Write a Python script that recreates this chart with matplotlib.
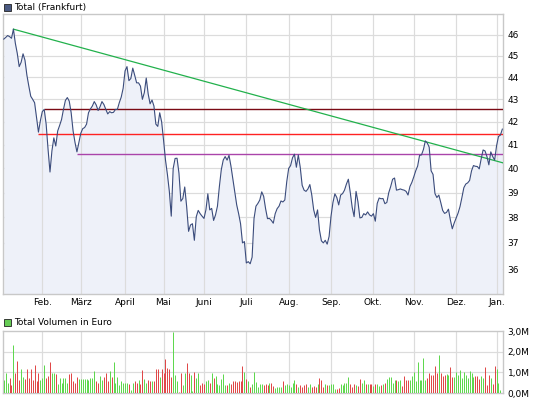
import numpy as np
import pandas as pd
import matplotlib
matplotlib.use("Agg")
import matplotlib.pyplot as plt
from matplotlib.patches import Rectangle

# ---------------- data ----------------
holidays = ["2010-04-02", "2010-04-05", "2010-12-24", "2010-12-31"]
dates = pd.bdate_range("2010-01-04", "2011-01-06")
dates = dates[~dates.isin(pd.to_datetime(holidays))]

month_labels = ["Feb.", "März", "April", "Mai", "Juni", "Juli", "Aug.",
                "Sep.", "Okt.", "Nov.", "Dez.", "Jan."]

prices = [
    45.8, 45.88, 45.97, 45.92, 45.84, 46.28, 45.6, 45.12, 44.5, 44.7,
    45.1, 44.8, 44.1, 43.6, 43.14, 43.0, 42.85, 42.2, 41.55, 42.05,
    42.45, 42.55, 41.9, 40.8, 39.85, 40.74, 41.3, 40.95, 41.6, 41.84,
    42.1, 42.55, 42.95, 43.08, 42.92, 42.4, 41.6, 41.1, 40.7, 41.1,
    41.5, 41.7, 41.75, 41.9, 42.4, 42.57, 42.7, 42.9, 42.75, 42.5,
    42.67, 42.9, 42.77, 42.55, 42.35, 42.45, 42.4, 42.42, 42.55, 42.55,
    42.85, 43.1, 43.5, 44.3, 44.5, 43.85, 43.95, 44.43, 44.1, 43.75,
    43.75, 43.6, 43.0, 43.3, 43.97, 43.25, 42.8, 42.97, 42.7, 41.9,
    41.8, 42.4, 42.0, 41.2, 40.35, 39.75, 39.05, 38.05, 40.0, 40.42,
    40.43, 39.8, 38.65, 38.76, 39.23, 38.43, 37.45, 37.7, 37.75, 37.1,
    38.03, 38.28, 38.15, 38.05, 37.96, 38.3, 38.95, 38.3, 38.36, 37.88,
    38.1, 38.45, 39.25, 39.95, 40.35, 40.5, 40.35, 40.55, 40.1, 39.55,
    39.0, 38.5, 38.15, 37.75, 37.0, 37.05, 36.23, 36.28, 36.2, 36.45,
    37.96, 38.45, 38.56, 38.7, 39.03, 38.85, 38.35, 37.95, 37.96, 37.88,
    37.77, 38.15, 38.35, 38.45, 38.66, 38.62, 38.7, 39.45, 40.0, 40.12,
    40.45, 40.6, 40.05, 40.57, 40.05, 39.3, 39.1, 39.05, 39.15, 39.33,
    38.9, 38.3, 38.0, 38.3, 37.5, 37.08, 37.0, 37.1, 36.95, 37.25,
    38.05, 38.6, 38.95, 38.8, 38.5, 38.9, 38.96, 39.1, 39.35, 39.55,
    39.0, 38.4, 38.03, 39.05, 38.62, 37.98, 38.0, 38.15, 38.1, 38.22,
    38.1, 38.05, 38.15, 37.85, 38.56, 38.78, 38.75, 38.76, 38.55, 38.6,
    39.0, 39.25, 39.55, 39.6, 39.1, 39.12, 39.15, 39.12, 39.1, 39.05,
    38.9, 39.25, 39.42, 39.65, 39.9, 40.1, 40.55, 40.57, 40.8, 41.17,
    41.08, 40.9, 39.9, 39.75, 38.96, 38.8, 38.9, 38.6, 38.28, 38.16,
    38.2, 38.33, 37.9, 37.55, 37.78, 37.98, 38.17, 38.43, 38.8, 39.2,
    39.35, 39.4, 39.5, 39.9, 40.12, 40.09, 40.08, 39.98, 40.4, 40.78,
    40.74, 40.5, 40.15, 40.7, 40.5, 40.35, 40.96, 41.36, 41.42, 41.68,
]

volumes_m = [
    0.61, 0.98, 0.47, 0.73, 0.39, 2.34, 0.95, 1.58, 0.64, 1.19,
    0.78, 0.68, 1.15, 0.73, 1.19, 0.64, 1.36, 0.56, 0.98, 0.64,
    0.73, 1.36, 0.73, 0.85, 1.49, 0.98, 0.98, 0.9, 0.44, 0.73,
    0.47, 0.73, 0.73, 0.47, 0.9, 0.95, 0.56, 0.47, 0.78, 0.68,
    0.68, 0.68, 0.68, 0.68, 0.64, 0.71, 0.73, 1.05, 0.56, 0.47,
    0.85, 0.64, 0.78, 0.95, 0.56, 1.08, 0.78, 1.53, 0.47, 0.78,
    0.39, 0.56, 0.47, 0.47, 0.47, 0.42, 0.15, 0.47, 0.56, 0.47,
    0.61, 0.42, 1.12, 0.68, 0.47, 0.61, 0.56, 0.58, 0.58, 1.19,
    1.15, 0.78, 1.15, 0.95, 1.66, 1.22, 1.15, 0.78, 2.98, 0.86,
    0.59, 0.05, 0.98, 0.39, 0.95, 1.44, 0.98, 0.86, 0.12, 1.02,
    0.73, 0.95, 0.39, 0.47, 0.42, 0.56, 0.61, 0.47, 0.98, 0.73,
    0.85, 0.42, 0.39, 0.68, 0.90, 0.39, 0.39, 0.47, 0.42, 0.56,
    0.58, 0.52, 0.56, 0.56, 1.31, 1.0, 0.69, 0.56, 0.31, 0.42,
    1.0, 0.52, 0.31, 0.42, 0.44, 0.39, 0.44, 0.39, 0.47, 0.47,
    0.34, 0.25, 0.31, 0.31, 0.31, 0.56, 0.39, 0.42, 0.39, 0.31,
    0.47, 0.61, 0.42, 0.31, 0.39, 0.28, 0.39, 0.44, 0.31, 0.42,
    0.31, 0.34, 0.28, 0.42, 0.73, 0.61, 0.31, 0.44, 0.39, 0.39,
    0.42, 0.42, 0.19, 0.19, 0.25, 0.42, 0.39, 0.49, 0.47, 0.76,
    0.42, 0.29, 0.42, 0.39, 0.36, 0.68, 0.49, 0.64, 0.42, 0.44,
    0.44, 0.44, 0.36, 0.44, 0.44, 0.36, 0.39, 0.44, 0.5, 0.69,
    0.76, 0.76, 0.47, 0.64, 0.64, 0.59, 0.64, 0.34, 0.83, 0.61,
    0.64, 0.64, 0.83, 1.02, 0.59, 1.49, 0.64, 0.64, 1.68, 0.61,
    0.73, 0.95, 0.86, 0.86, 1.32, 0.95, 1.83, 0.98, 0.83, 0.86,
    0.9, 0.86, 1.27, 0.76, 0.76, 1.0, 0.86, 1.1, 0.73, 1.0,
    0.86, 0.73, 1.05, 0.98, 0.76, 0.83, 0.83, 0.69, 0.83, 0.73,
    1.27, 0.39, 0.86, 0.73, 0.44, 1.32, 1.17, 0.5, 0.15,
]

# horizontal support / resistance levels and where they start (trading-day index)
level_values = [42.56, 41.46, 40.60]
level_starts = [21, 18, 38]
level_colors = ["#7a0a14", "#ff2222", "#aa44aa"]
# trend line (start index, start value) -> (end index, end value)
trend_x = [5, 259.5]
trend_y = [46.28, 40.23]

price_ticks = [36, 37, 38, 39, 40, 41, 42, 43, 44, 45, 46]
vol_ticks = [0, 1, 2, 3]
vol_tick_labels = ["0,0M", "1,0M", "2,0M", "3,0M"]

# ---------------- figure ----------------
W, H = 545, 398
fig = plt.figure(figsize=(W / 100, H / 100), dpi=100)
FS = 6.5
GRID = "#dcdcdc"
SPINE = "#c8c8c8"
TXT = "#000000"
PX = 0.72  # one pixel in points

x = np.arange(len(prices))
mstarts = [i for i in range(1, len(dates)) if dates[i].month != dates[i - 1].month]

def px_axes(l, t, r, b):
    return fig.add_axes([l / W, 1 - b / H, (r - l) / W, (b - t) / H])

xlim = (-0.57, 259.5)

# price panel
ax = px_axes(2.7, 14, 503.3, 293.5)
ax.set_yscale("log")
ylo, yhi = 35.09, 47.02
ax.set_ylim(ylo, yhi)
ax.set_xlim(*xlim)
ax.fill_between(x, prices, ylo, color="#eef1f9", lw=0, zorder=1)
for v in price_ticks:
    ax.axhline(v, color=GRID, lw=PX * 1.2, zorder=0.5)
for m in mstarts:
    ax.axvline(m, color=GRID, lw=PX * 1.2, zorder=1.5)
for v, s, c in zip(level_values, level_starts, level_colors):
    ax.plot([s, xlim[1]], [v, v], color=c, lw=1.0, zorder=3, solid_capstyle="butt")
ax.plot(trend_x, trend_y, color="#22b14c", lw=0.9, zorder=3)
ax.plot(x, prices, color="#3b4c7c", lw=0.8, zorder=4)

ax.yaxis.tick_right()
ax.set_yticks(price_ticks)
ax.set_yticklabels([str(v) for v in price_ticks])
ax.yaxis.set_minor_locator(matplotlib.ticker.NullLocator())
ax.set_xticks(mstarts)
ax.set_xticklabels(month_labels)
ax.tick_params(axis="both", length=0, labelsize=FS, colors=TXT)
ax.tick_params(axis="y", pad=3)
ax.tick_params(axis="x", pad=3.5)
for sp in ax.spines.values():
    sp.set_color(SPINE)
    sp.set_linewidth(1)

# top legend
fig.patches.append(Rectangle((3.5 / W, 1 - 11 / H), 7 / W, 7 / H, transform=fig.transFigure,
                             facecolor="#4a5a82", edgecolor="#222222", lw=0.6))
fig.text(14 / W, 1 - 7.5 / H, "Total (Frankfurt)", fontsize=FS, va="center", ha="left")

# volume legend
fig.patches.append(Rectangle((3.5 / W, 1 - 326 / H), 7 / W, 7 / H, transform=fig.transFigure,
                             facecolor="#66cc55", edgecolor="#222222", lw=0.6))
fig.text(14 / W, 1 - 322.5 / H, "Total Volumen in Euro", fontsize=FS, va="center", ha="left")

# volume panel
av = px_axes(2.7, 331.3, 503.3, 393)
av.set_xlim(*xlim)
av.set_ylim(0, 3)
vx = np.arange(len(volumes_m))
pr = np.array(prices)
up = np.concatenate([[True], pr[1:] >= pr[:-1]])
cols = ["#5fd84e" if up[i] else "#e04848" for i in vx]
av.vlines(vx, 0, volumes_m, colors=cols, lw=PX, zorder=3, snap=True, capstyle="butt")
for v in [1, 2]:
    av.axhline(v, color=GRID, lw=PX * 1.2, zorder=0.5)
for m in mstarts:
    av.axvline(m, color=GRID, lw=PX * 1.2, zorder=0.5)
av.set_xticks([])
av.yaxis.tick_right()
av.set_yticks(vol_ticks)
av.set_yticklabels(vol_tick_labels)
av.tick_params(axis="both", length=0, labelsize=FS, colors=TXT, pad=3)
for sp in av.spines.values():
    sp.set_color(SPINE)
    sp.set_linewidth(1)

fig.savefig("out.png", dpi=100)
